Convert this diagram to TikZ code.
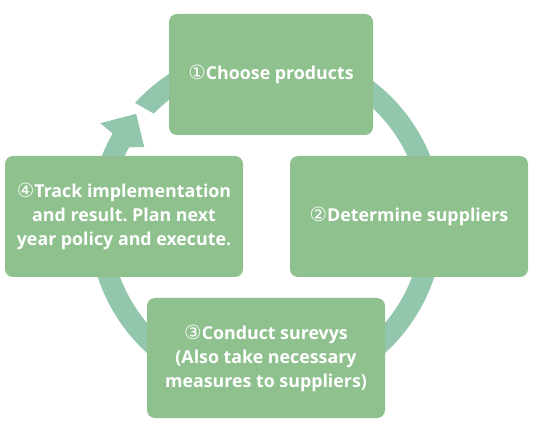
\documentclass[tikz,border=0pt]{standalone}
\usepackage{fontspec}
\setmainfont{Open Sans}
\newfontfamily\circfont[Scale=1.1]{DejaVu Sans}
\newcommand{\circled}[1]{{\circfont\mdseries #1}}
\definecolor{boxgreen}{RGB}{143,193,142}
\definecolor{ringgreen}{RGB}{146,198,173}
\tikzset{stepbox/.style={rectangle, rounded corners=8pt, fill=boxgreen, text=white, align=center, inner sep=0pt, minimum height=121pt, font=\bfseries\frenchspacing\fontsize{17.8}{24}\selectfont}}
\begin{document}
\begin{tikzpicture}[x=1pt,y=1pt]
\useasboundingbox (0,0) rectangle (540,431);
\begin{scope}[shift={(266,209)}]
\fill[ringgreen] (137.7:177) arc[start angle=137.7, end angle=-210, radius=177] -- (149.2:193) -- (140.2:169) -- (148.4:143) -- (-208.6:156) arc[start angle=-208.6, end angle=136, radius=156] -- cycle;
\end{scope}
\node[stepbox, minimum width=204pt] (stp1) at (271,356.5) {\circled{①}Choose products};
\node[stepbox, minimum width=238pt] (stp2) at (409,214.5) {\circled{②}Determine suppliers};
\node[stepbox, minimum width=238pt, minimum height=120pt] (stp3) at (266,73) {\circled{③}Conduct surevys\\(Also take necessary\\measures to suppliers)};
\node[stepbox, minimum width=238pt] (stp4) at (124,214.5) {\circled{④}Track implementation\\and result. Plan next\\year policy and execute.};
\end{tikzpicture}
\end{document}
